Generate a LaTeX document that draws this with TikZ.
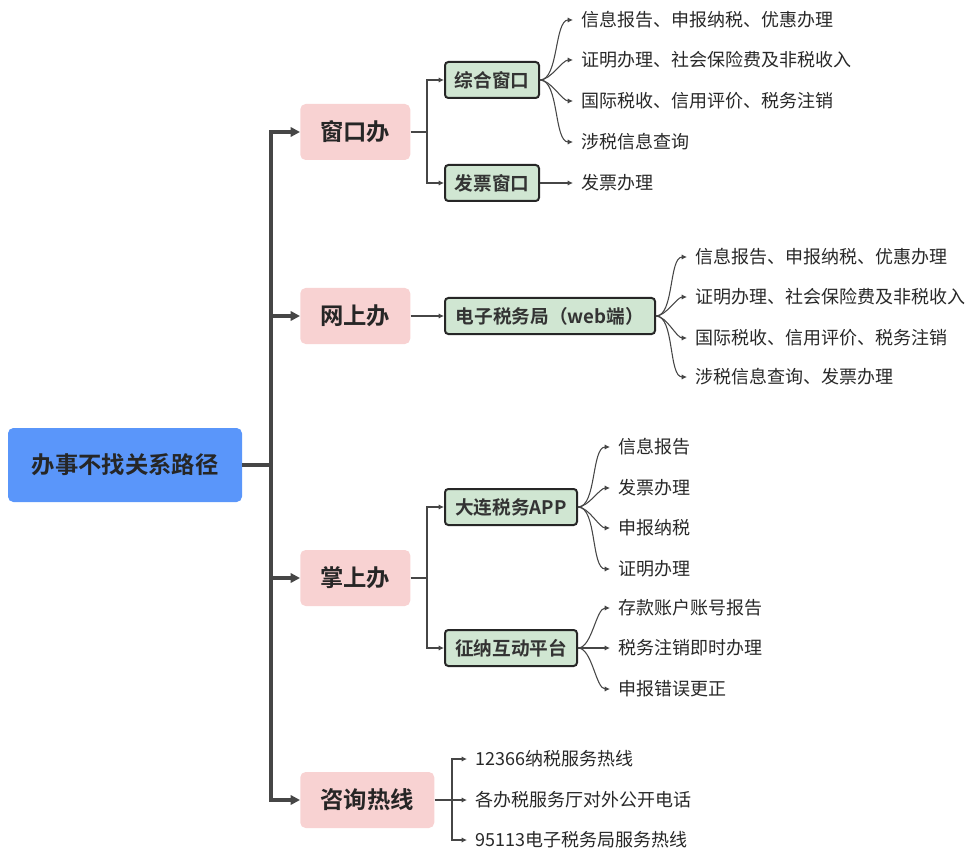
\documentclass[tikz,border=0pt]{standalone}
\usepackage{fontspec}
\setmainfont{Noto Sans CJK SC}[BoldFont={* Bold}]
\usetikzlibrary{arrows.meta}
\definecolor{rootblue}{RGB}{90,150,250}
\definecolor{pinkfill}{RGB}{248,210,210}
\definecolor{greenfill}{RGB}{208,230,210}
\definecolor{linegray}{RGB}{70,70,70}
\definecolor{txt}{RGB}{40,40,40}
\begin{document}
\begin{tikzpicture}[x=0.75pt,y=-0.75pt,
  rootbox/.style={fill=rootblue,rounded corners=4pt,minimum width=175.5pt,minimum height=55.5pt,font=\fontsize{17.5}{20}\selectfont\bfseries,text=black!85},
  pinkbox/.style={fill=pinkfill,rounded corners=4pt,minimum width=82.5pt,minimum height=42pt,font=\fontsize{17.5}{20}\selectfont\bfseries,text=black!85,anchor=west},
  greenbox/.style={fill=greenfill,draw=black!85,line width=1.5pt,rounded corners=2.5pt,minimum height=27pt,font=\fontsize{14}{16}\selectfont\bfseries,text=black!80,anchor=west},
  leaf/.style={anchor=west,inner xsep=6pt,inner ysep=1pt,font=\fontsize{13.5}{16}\selectfont,text=txt},
  trunk/.style={draw=linegray,line width=2.3pt},
  trunkarrow/.style={trunk,-{Triangle[length=7pt,width=7pt]}},
  thin/.style={draw=linegray,line width=0.8pt},
  thinarrow/.style={thin,-{Latex[length=4pt,width=4pt]}},
  curvearrow/.style={thin,-{Latex[length=4pt,width=4pt]},out=0,in=180,looseness=0.7}
]
\useasboundingbox (0,0) rectangle (977,855);

% root
\node[rootbox] (r) at (125,465) {办事不找关系路径};

% level 1
\node[pinkbox] (p1) at (300,132) {窗口办};
\node[pinkbox] (p2) at (300,316) {网上办};
\node[pinkbox] (p3) at (300,578) {掌上办};
\node[pinkbox,minimum width=100.5pt] (p4) at (300,800) {咨询热线};

% trunk
\coordinate (j) at (271,465);
\draw[trunk] (r.east) -- (j);
\draw[trunkarrow] (j) |- (p1.west);
\draw[trunkarrow] (j) |- (p2.west);
\draw[trunkarrow] (j) |- (p3.west);
\draw[trunkarrow] (j) |- (p4.west);

% level 2
\node[greenbox,minimum width=70.5pt] (g1) at (444,80) {综合窗口};
\node[greenbox,minimum width=70.5pt] (g2) at (444,183) {发票窗口};
\node[greenbox,minimum width=157.5pt] (g3) at (444,316) {电子税务局（web端）};
\node[greenbox,minimum width=99pt] (g4) at (444,507) {大连税务APP};
\node[greenbox,minimum width=99pt] (g5) at (444,648) {征纳互动平台};

\coordinate (j1) at (427,132);
\draw[thin] (p1.east) -- (j1);
\draw[thinarrow] (j1) |- (g1.west);
\draw[thinarrow] (j1) |- (g2.west);
\draw[thinarrow] (p2.east) -- (g3.west);
\coordinate (j3) at (427,578);
\draw[thin] (p3.east) -- (j3);
\draw[thinarrow] (j3) |- (g4.west);
\draw[thinarrow] (j3) |- (g5.west);

% leaves of 综合窗口
\node[leaf] (a1) at (573,20) {信息报告、申报纳税、优惠办理};
\node[leaf] (a2) at (573,60) {证明办理、社会保险费及非税收入};
\node[leaf] (a3) at (573,101) {国际税收、信用评价、税务注销};
\node[leaf] (a4) at (573,142) {涉税信息查询};
\foreach \n in {a1,a2,a3,a4} \draw[curvearrow] (g1.east) to (\n.west);
\node[leaf] (b1) at (573,183) {发票办理};
\draw[thinarrow] (g2.east) -- (b1.west);

% leaves of web
\node[leaf] (c1) at (687,257) {信息报告、申报纳税、优惠办理};
\node[leaf] (c2) at (687,297) {证明办理、社会保险费及非税收入};
\node[leaf] (c3) at (687,338) {国际税收、信用评价、税务注销};
\node[leaf] (c4) at (687,377) {涉税信息查询、发票办理};
\foreach \n in {c1,c2,c3,c4} \draw[curvearrow] (g3.east) to (\n.west);

% leaves of APP
\node[leaf] (d1) at (610,447) {信息报告};
\node[leaf] (d2) at (610,488) {发票办理};
\node[leaf] (d3) at (610,528) {申报纳税};
\node[leaf] (d4) at (610,569) {证明办理};
\foreach \n in {d1,d2,d3,d4} \draw[curvearrow] (g4.east) to (\n.west);

% leaves of 征纳互动平台
\node[leaf] (e1) at (610,608) {存款账户账号报告};
\node[leaf] (e2) at (610,648) {税务注销即时办理};
\node[leaf] (e3) at (610,689) {申报错误更正};
\foreach \n in {e1,e2,e3} \draw[curvearrow] (g5.east) to (\n.west);

% leaves of 咨询热线
\coordinate (j4) at (452,800);
\node[leaf] (f1) at (467,759) {12366纳税服务热线};
\node[leaf] (f2) at (467,800) {各办税服务厅对外公开电话};
\node[leaf] (f3) at (467,840) {95113电子税务局服务热线};
\draw[thin] (p4.east) -- (j4);
\draw[thinarrow] (j4) |- (f1.west);
\draw[thinarrow] (j4) -- (f2.west);
\draw[thinarrow] (j4) |- (f3.west);
\end{tikzpicture}
\end{document}
